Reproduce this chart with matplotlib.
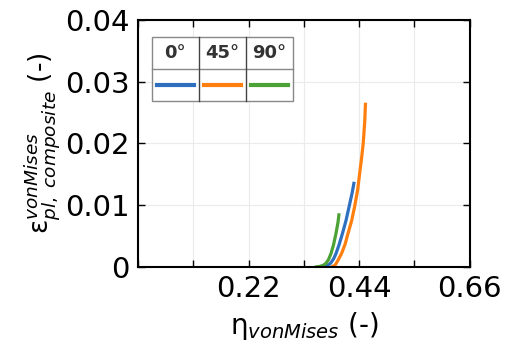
import numpy as np
import matplotlib.pyplot as plt
from matplotlib.patches import Rectangle
from matplotlib.lines import Line2D
from matplotlib.ticker import FixedLocator

plt.rcParams['mathtext.fontset'] = 'dejavusans'

# curves (eta, plastic strain)
eta_0 = [0.368, 0.376, 0.383, 0.389, 0.394, 0.400, 0.407, 0.414, 0.420, 0.426, 0.430]
eps_0 = [0.0, 0.0002, 0.0006, 0.0013, 0.0022, 0.0036, 0.0055, 0.0076, 0.0098, 0.0120, 0.0138]
eta_45 = [0.385, 0.392, 0.398, 0.405, 0.412, 0.418, 0.425, 0.431, 0.437, 0.441, 0.445, 0.448, 0.451, 0.4526]
eps_45 = [0.0, 0.0003, 0.0011, 0.0022, 0.0037, 0.0055, 0.0075, 0.0098, 0.0125, 0.0152, 0.0178, 0.0200, 0.0235, 0.0266]
eta_90 = [0.352, 0.362, 0.369, 0.374, 0.379, 0.384, 0.389, 0.394, 0.398, 0.400]
eps_90 = [0.0, 0.0001, 0.0003, 0.0006, 0.0012, 0.0022, 0.0036, 0.0055, 0.0073, 0.0087]

labels = ["0°", "45°", "90°"]
colors = ["#2f6fbf", "#ff7f0e", "#4ca235"]

fig = plt.figure(figsize=(5.09, 3.56), dpi=100)
ax = fig.add_axes([0.271, 0.25, 0.652, 0.694])

for (x, y), c in zip([(eta_0, eps_0), (eta_45, eps_45), (eta_90, eps_90)], colors):
    ax.plot(x, y, color=c, lw=2.3, solid_capstyle='butt')

ax.set_xlim(0, 0.66)
ax.set_ylim(0, 0.04)
ax.xaxis.set_major_locator(FixedLocator([0.22, 0.44, 0.66]))
ax.xaxis.set_minor_locator(FixedLocator([0.0, 0.11, 0.33, 0.55]))
ax.yaxis.set_major_locator(FixedLocator([0, 0.01, 0.02, 0.03, 0.04]))
ax.set_yticklabels(["0", "0.01", "0.02", "0.03", "0.04"])
ax.set_xticklabels(["0.22", "0.44", "0.66"])
ax.tick_params(which='both', direction='in', top=True, right=True, length=5, width=1,
               labelsize=21, pad=6)
ax.grid(which='both', color='#ebebeb', lw=0.8)
ax.set_axisbelow(True)
for s in ax.spines.values():
    s.set_linewidth(1.5)

ax.set_xlabel(r'$\mathrm{\eta}_{\mathit{vonMises}}$ (-)', fontsize=20, labelpad=5)
ax.set_ylabel(r'$\mathrm{\varepsilon}_{\mathit{pl,\ composite}}^{\mathit{vonMises}}$ (-)',
              fontsize=19, labelpad=2)

# table-style legend
x0, x1 = 0.042, 0.467
y0, y1 = 0.672, 0.931
ym = (y0 + y1) / 2
w = (x1 - x0) / 3
ax.add_patch(Rectangle((x0, y0), x1 - x0, y1 - y0, transform=ax.transAxes,
                       facecolor='white', edgecolor='#888888', lw=1, zorder=5))
ax.add_line(Line2D([x0, x1], [ym, ym], transform=ax.transAxes, color='#888888', lw=1, zorder=6))
for i in range(1, 3):
    ax.add_line(Line2D([x0 + i * w, x0 + i * w], [y0, y1], transform=ax.transAxes,
                       color='#444444', lw=1, zorder=6))
for i, (lab, c) in enumerate(zip(labels, colors)):
    xc = x0 + (i + 0.5) * w
    ax.text(xc, (ym + y1) / 2, lab, transform=ax.transAxes, ha='center', va='center',
            fontsize=13, fontweight='bold', color='#333333', zorder=7)
    ax.add_line(Line2D([xc - w * 0.39, xc + w * 0.39], [(y0 + ym) / 2] * 2,
                       transform=ax.transAxes, color=c, lw=3, zorder=7))

fig.savefig("out.png", dpi=100)
